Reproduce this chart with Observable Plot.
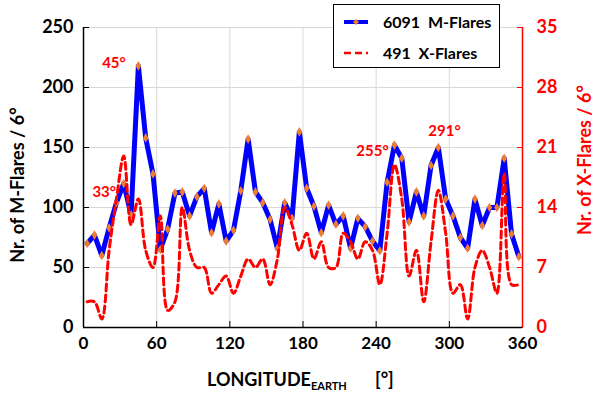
<!DOCTYPE html>
<html><head><meta charset="utf-8">
<script src="https://cdn.jsdelivr.net/npm/d3@7"></script>
<script src="https://cdn.jsdelivr.net/npm/@observablehq/plot@0.6"></script>
<style>
body{margin:0;background:#fff;}
#wrap{position:relative;width:595px;height:393px;font-family:Lato,"Open Sans",sans-serif;font-weight:bold;}
#legend{position:absolute;left:333px;top:4px;width:167px;height:64px;border:1.5px solid #000;background:#fff;box-sizing:border-box;font-size:16px;color:#000;}
#legend .row{position:absolute;left:9px;display:flex;align-items:center;}
#legend svg{margin-right:14px;}
</style></head><body><div id="wrap"></div>
<script>
const longitudes = [3,9,15,21,27,33,39,45,51,57,63,69,75,81,87,93,99,105,111,117,123,129,135,141,147,153,159,165,171,177,183,189,195,201,207,213,219,225,231,237,243,249,255,261,267,273,279,285,291,297,303,309,315,321,327,333,339,345,351,357];
const mFlares = [70,77,60,83,104,120,94,218,158,128,65,82,112,113,93,109,116,79,103,72,81,114,157,113,104,90,66,104,91,163,116,101,79,102,86,93,66,91,84,72,64,121,152,141,88,113,93,135,150,107,93,75,66,107,85,100,100,141,78,59];
const xFlares = [3,3,1,9,15,20,12,15,9,7,13,2,3,14,9,7,7,4,5,6,4,6,8,7,8,5,8,14,12,9,11,8,10,7,7,11,10,8,10,9,5,11,19,15,6,9,3,10,16,11,4,5,1,7,9,7,4,18,5,5];
const xTicks = [0,60,120,180,240,300,360];
const mTicks = [0,50,100,150,200,250];
const xFlareTicks = [0,7,14,21,28,35];
const annotLabels = ["45°","33°","255°","291°"];
const annotLon = [25,17,237,296];
const annotVal = [220,113,147,164];
const mTotal = 6091, xTotal = 491;

const mMax = 250, xMax = 35, k = mMax / xMax;
const mData = longitudes.map((lon, i) => ({lon, v: mFlares[i]}));
const xData = longitudes.map((lon, i) => ({lon, v: xFlares[i] * k}));
const annots = annotLabels.map((t, i) => ({t, lon: annotLon[i], v: annotVal[i]}));

const plot = Plot.plot({
  width: 595, height: 393,
  marginLeft: 83, marginRight: 73, marginTop: 27, marginBottom: 66,
  style: {fontFamily: "Lato, 'Open Sans', sans-serif", fontWeight: "bold", fontSize: "18px", background: "white", overflow: "visible"},
  x: {domain: [0, 360]},
  y: {domain: [0, mMax]},
  marks: [
    Plot.gridY(mTicks.slice(1), {stroke: "#d9d9d9", strokeOpacity: 1}),
    Plot.gridX(xTicks.slice(1, -1), {stroke: "#d9d9d9", strokeOpacity: 1}),
    Plot.axisY(mTicks, {anchor: "left", tickSize: -6, tickPadding: 16, label: null, color: "black", fontSize: 18}),
    Plot.axisY(xFlareTicks.map(v => v * k), {anchor: "right", tickSize: -6, tickPadding: 20, label: null, color: "red", fontSize: 18, tickFormat: d => Math.round(d / k)}),
    Plot.axisX(xTicks, {anchor: "bottom", tickSize: -6, tickPadding: 15, label: null, color: "black", fontSize: 17}),
    Plot.ruleX([0], {stroke: "black", strokeWidth: 1.5}),
    Plot.ruleX([360], {stroke: "red", strokeWidth: 1.5}),
    Plot.ruleY([0], {stroke: "black", strokeWidth: 1.5}),
    Plot.line(mData, {x: "lon", y: "v", stroke: "#0000ff", strokeWidth: 5}),
    Plot.dot(mData, {x: "lon", y: "v", symbol: "diamond", r: 2.9, fill: "#ED7D31", stroke: "none"}),
    Plot.line(xData, {x: "lon", y: "v", curve: "catmull-rom", stroke: "#ff0000", strokeWidth: 3, strokeDasharray: "7,4"}),
    Plot.text(annots, {x: "lon", y: "v", text: "t", fill: "#ff0000", fontSize: 15, fontWeight: "bold"})
  ]
});

const wrap = document.getElementById("wrap");
wrap.appendChild(plot);
const svg = d3.select(plot);
// axis titles
svg.append("text").attr("transform", "translate(24,185) rotate(-90)")
  .attr("text-anchor", "middle").attr("font-size", 18).attr("font-weight", "bold").attr("fill", "black")
  .text("Nr. of M-Flares / 6°");
svg.append("text").attr("transform", "translate(591,160) rotate(-90)")
  .attr("text-anchor", "middle").attr("font-size", 18).attr("font-weight", "bold").attr("fill", "red")
  .text("Nr. of X-Flares / 6°");
const xt = svg.append("text").attr("x", 207).attr("y", 386).attr("text-anchor", "start")
  .attr("font-size", 18).attr("font-weight", "bold").attr("fill", "black");
xt.append("tspan").text("LONGITUDE");
xt.append("tspan").attr("font-size", 11).attr("dy", 4).text("EARTH");
svg.append("text").attr("x", 375).attr("y", 386).attr("text-anchor", "start")
  .attr("font-size", 18).attr("font-weight", "bold").attr("fill", "black").text("[°]");

// legend
const legend = document.createElement("div");
legend.id = "legend";
legend.innerHTML = `
<div class="row" style="top:7px"><svg width="26" height="10"><line x1="1" y1="5" x2="25" y2="5" stroke="#0000ff" stroke-width="4"/><path d="M13,2L16,5L13,8L10,5Z" fill="#ED7D31"/></svg><span>${mTotal}&nbsp;&nbsp;M-Flares</span></div>
<div class="row" style="top:38px"><svg width="26" height="10"><line x1="1" y1="5" x2="25" y2="5" stroke="#ff0000" stroke-width="2.5" stroke-dasharray="7,4"/></svg><span>${xTotal}&nbsp;&nbsp;X-Flares</span></div>`;
wrap.appendChild(legend);
</script></body></html>
